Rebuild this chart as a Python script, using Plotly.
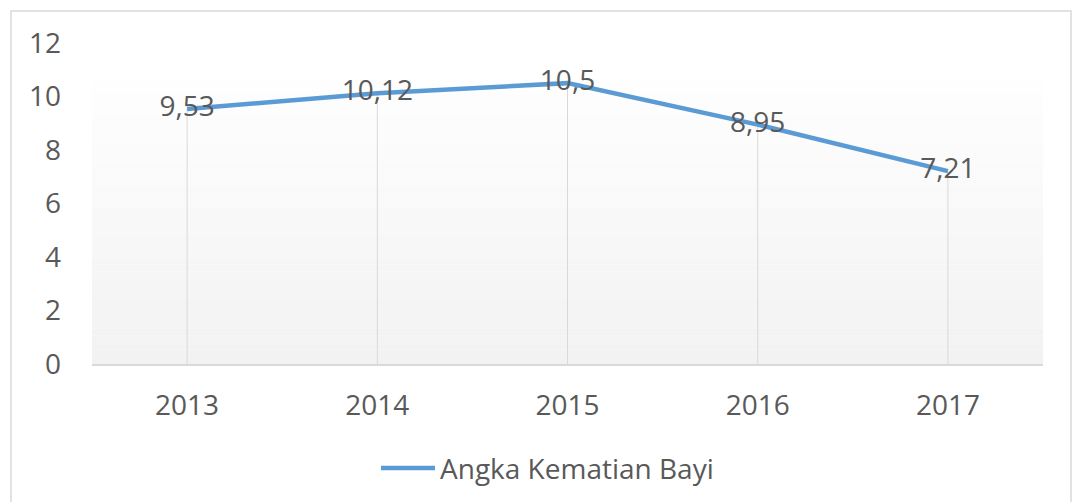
import plotly.graph_objects as go

years = ["2013", "2014", "2015", "2016", "2017"]
values = [9.53, 10.12, 10.5, 8.95, 7.21]
series_name = "Angka Kematian Bayi"
y_ticks = [0, 2, 4, 6, 8, 10, 12]

W, H = 1074, 502
L, R, T, B = 92, 31, 43, 138
pw, ph = W - L - R, H - T - B

def px_x(p):
    return (p - L) / pw

def px_y(p):
    return (H - B - p) / ph

labels = [f"{v:g}".replace(".", ",") for v in values]
FONT = "Open Sans"
TXT = "#595959"
BLUE = "#5b9bd5"

fig = go.Figure()

# drop lines
dx, dy = [], []
for c, v in zip(years, values):
    dx += [c, c, None]
    dy += [0, v, None]
fig.add_trace(go.Scatter(x=dx, y=dy, mode="lines", line=dict(color="#d9d9d9", width=1),
                         hoverinfo="skip", showlegend=False))

fig.add_trace(go.Scatter(x=years, y=values, mode="lines+text", name=series_name,
                         line=dict(color=BLUE, width=4.5),
                         text=labels, textposition="middle center",
                         textfont=dict(family=FONT, size=28, color=TXT),
                         showlegend=False))

shapes = []
# gradient background bands
n = 40
top = px_y(80)
for i in range(n):
    y0 = top * i / n
    y1 = top * (i + 1) / n
    t = i / (n - 1)
    g = round(242 + (254 - 242) * t)
    shapes.append(dict(type="rect", xref="paper", yref="paper", x0=0, x1=1, y0=y0, y1=y1,
                       fillcolor=f"rgb({g},{g},{g})", line=dict(width=0), layer="below"))
# outer border
shapes.append(dict(type="rect", xref="paper", yref="paper",
                   x0=px_x(11), x1=px_x(1071), y0=px_y(512), y1=px_y(11),
                   line=dict(color="#d9d9d9", width=1.5), fillcolor="rgba(0,0,0,0)"))
# legend line
ly = px_y(468)
shapes.append(dict(type="line", xref="paper", yref="paper",
                   x0=px_x(381), x1=px_x(435), y0=ly, y1=ly,
                   line=dict(color=BLUE, width=4.5)))

fig.update_layout(
    width=W, height=H,
    margin=dict(l=L, r=R, t=T, b=B, autoexpand=False),
    paper_bgcolor="white", plot_bgcolor="rgba(0,0,0,0)",
    shapes=shapes,
    annotations=[dict(text=series_name, xref="paper", yref="paper", x=px_x(438), y=ly,
                      xanchor="left", yanchor="middle", showarrow=False,
                      font=dict(family=FONT, size=28, color=TXT))],
    xaxis=dict(type="category", range=[-0.5, 4.5], showgrid=False, zeroline=False,
               showline=True, linecolor="#d9d9d9", linewidth=1.5, ticks="",
               tickfont=dict(family=FONT, size=28, color=TXT), ticklabelstandoff=16,
               fixedrange=True),
    yaxis=dict(range=[0, 12], tickvals=y_ticks, showgrid=False, zeroline=False,
               showline=False, ticks="", tickfont=dict(family=FONT, size=28, color=TXT),
               ticklabelstandoff=30, fixedrange=True),
    showlegend=False,
)

fig.write_html("out.html", config={"displayModeBar": False},
               post_script="document.body.style.margin='0';document.body.style.overflow='hidden';")
